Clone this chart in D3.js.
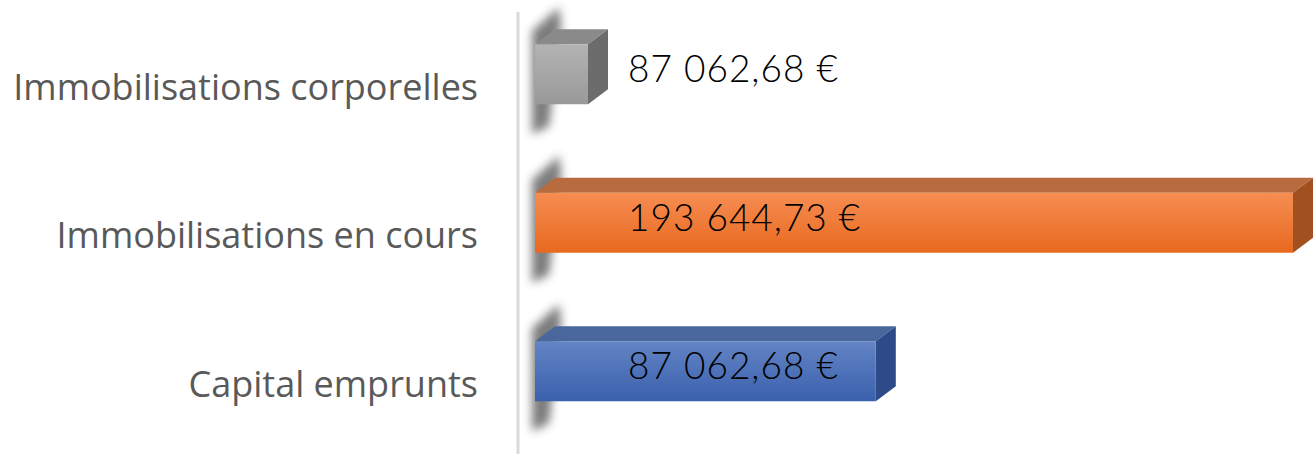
<!DOCTYPE html>
<html>
<head>
<meta charset="utf-8">
<script src="https://cdn.jsdelivr.net/npm/d3@7"></script>
<style>
  body { margin: 0; background: #fff; }
  svg { display: block; }
</style>
</head>
<body>
<div class="canvas"></div>
<script>
const categories = ['Immobilisations corporelles', 'Immobilisations en cours', 'Capital emprunts']
const values = [13540, 193644.73, 87062.68]
const valueLabels = ['87 062,68 €', '193 644,73 €', '87 062,68 €']
const palettes = [
    { top: '#b3b3b3', bottom: '#999999', lid: '#8a8a8a', side: '#6c6c6c' },
    { top: '#f68d52', bottom: '#e8691f', lid: '#b86b3e', side: '#a1501f' },
    { top: '#6384c5', bottom: '#3a61ac', lid: '#4a679c', side: '#2c4b88' }
]

const dims = { width: 1314, height: 454 }
const depth = { x: 20, y: 15 }

const svg = d3.select('.canvas')
    .append('svg')
    .attr('width', dims.width)
    .attr('height', dims.height)

const defs = svg.append('defs')

defs.append('filter')
    .attr('id', 'blur')
    .attr('x', '-50%').attr('y', '-50%')
    .attr('width', '200%').attr('height', '200%')
    .append('feGaussianBlur')
    .attr('stdDeviation', 5)

palettes.forEach((p, i) => {
    const g = defs.append('linearGradient')
        .attr('id', `grad${i}`)
        .attr('x1', 0).attr('y1', 0).attr('x2', 0).attr('y2', 1)
    g.append('stop').attr('offset', '0%').attr('stop-color', p.top)
    g.append('stop').attr('offset', '100%').attr('stop-color', p.bottom)
})

const x = d3.scaleLinear()
    .domain([0, d3.max(values)])
    .range([535, 1293])

const y = d3.scaleBand()
    .domain(categories)
    .range([0, 445.5])
    .paddingInner(0.596)
    .paddingOuter(0.298)

// axis line
svg.append('line')
    .attr('x1', 518).attr('x2', 518)
    .attr('y1', 12).attr('y2', dims.height)
    .attr('stroke', '#d9d9d9')
    .attr('stroke-width', 3)

const bars = svg.selectAll('g.bar')
    .data(categories)
    .enter()
    .append('g')
    .classed('bar', true)

// blurred shadow at the base of each bar
bars.append('path')
    .attr('d', d => {
        const x0 = x(0), y0 = y(d), h = y.bandwidth()
        return `M${x0 - 3},${y0 - depth.y + 2} L${x0 + depth.x + 4},${y0 - depth.y - 22} L${x0 + depth.x + 6},${y0 - depth.y - 4} L${x0 + 14},${y0 + h + 22} L${x0 - 3},${y0 + h + 30} Z`
    })
    .attr('fill', '#444')
    .attr('opacity', 0.7)
    .attr('filter', 'url(#blur)')

// top face
bars.append('path')
    .attr('d', (d, i) => {
        const x0 = x(0), x1 = x(values[i]), y0 = y(d)
        return `M${x0},${y0} L${x0 + depth.x},${y0 - depth.y} L${x1 + depth.x},${y0 - depth.y} L${x1},${y0} Z`
    })
    .attr('fill', (d, i) => palettes[i].lid)

// side face
bars.append('path')
    .attr('d', (d, i) => {
        const x1 = x(values[i]), y0 = y(d), h = y.bandwidth()
        return `M${x1},${y0} L${x1 + depth.x},${y0 - depth.y} L${x1 + depth.x},${y0 + h - depth.y} L${x1},${y0 + h} Z`
    })
    .attr('fill', (d, i) => palettes[i].side)

// front face
bars.append('rect')
    .attr('x', x(0))
    .attr('y', d => y(d))
    .attr('width', (d, i) => x(values[i]) - x(0))
    .attr('height', y.bandwidth())
    .attr('fill', (d, i) => `url(#grad${i})`)

// value labels
bars.append('text')
    .attr('x', x(0) + 93)
    .attr('y', d => y(d) + y.bandwidth() / 2 - 5)
    .attr('dy', '0.35em')
    .attr('font-family', 'Lato, sans-serif')
    .attr('font-weight', 300)
    .attr('font-size', 37)
    .attr('letter-spacing', 1)
    .attr('fill', '#000')
    .text((d, i) => valueLabels[i])

// category labels
svg.selectAll('text.cat')
    .data(categories)
    .enter()
    .append('text')
    .classed('cat', true)
    .attr('x', 478)
    .attr('y', d => y(d) + y.bandwidth() / 2 + 13)
    .attr('dy', '0.35em')
    .attr('text-anchor', 'end')
    .attr('font-family', '"Open Sans", sans-serif')
    .attr('font-size', 36)
    .attr('fill', '#595959')
    .text(d => d)
</script>
</body>
</html>
